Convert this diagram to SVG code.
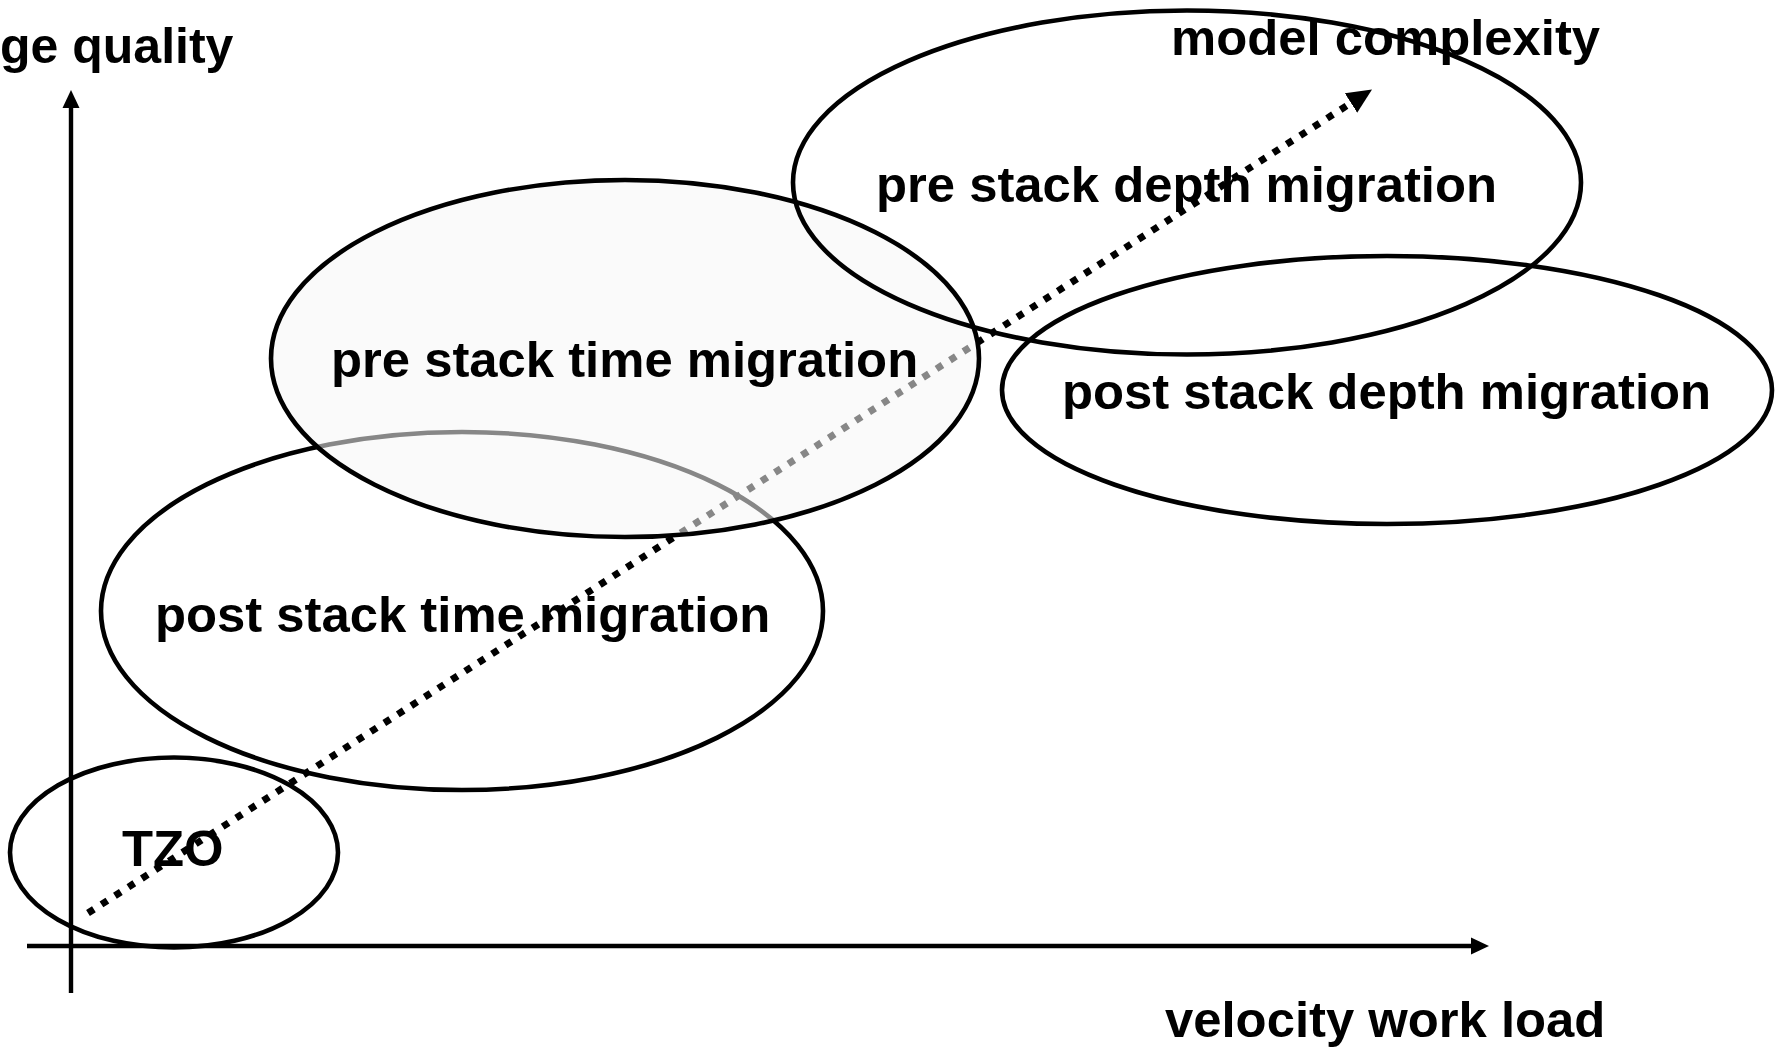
<svg xmlns="http://www.w3.org/2000/svg" width="1781" height="1047" viewBox="0 0 1781 1047">
<style>
  .lbl { font-family: "Liberation Sans", Arial, sans-serif; font-weight: bold; font-size: 50.8px; fill: #000; }
  .ell { fill: none; stroke: #000; stroke-width: 4.6; }
  .axis { stroke: #000; stroke-width: 4.4; fill: none; }
  .dots { stroke: #000; stroke-width: 7; stroke-dasharray: 7 9; fill: none; }
</style>
<defs>
  <marker id="axHead" markerUnits="userSpaceOnUse" markerWidth="20" markerHeight="20" viewBox="0 -10 18 20" refX="0" refY="0" orient="auto">
    <path d="M0,-8.5 L18,0 L0,8.5 z" fill="#000"/>
  </marker>
  <marker id="dotHead" markerUnits="userSpaceOnUse" markerWidth="26" markerHeight="26" viewBox="0 -12 25 24" refX="0" refY="0" orient="auto">
    <path d="M0,-11 L24,0 L0,11 z" fill="#000"/>
  </marker>
</defs>
<rect width="1781" height="1047" fill="#fff"/>

<g id="axes">
  <line class="axis" x1="71" y1="993" x2="71" y2="108" marker-end="url(#axHead)"/>
  <line class="axis" x1="27" y1="946" x2="1471" y2="946" marker-end="url(#axHead)"/>
</g>

<g id="node-tzo">
  <ellipse class="ell" cx="174" cy="852.5" rx="164" ry="95"/>
  <text class="lbl" x="122" y="866">TZO</text>
</g>

<g id="node-post-stack-time">
  <ellipse class="ell" cx="462" cy="611" rx="361" ry="179"/>
  <text class="lbl" x="155" y="632">post stack time migration</text>
</g>

<g id="connectors">
  <line class="dots" x1="88" y1="913" x2="1351" y2="103" marker-end="url(#dotHead)"/>
</g>

<g id="node-pre-stack-time">
  <ellipse cx="625" cy="358.5" rx="354" ry="178.5" fill="#f6f6f6" fill-opacity="0.55" stroke="#000" stroke-width="4.6"/>
  <text class="lbl" x="331" y="377">pre stack time migration</text>
</g>

<g id="node-pre-stack-depth">
  <ellipse class="ell" cx="1187" cy="182.5" rx="394" ry="172"/>
  <text class="lbl" x="876" y="202">pre stack depth migration</text>
</g>

<g id="node-post-stack-depth">
  <ellipse class="ell" cx="1387" cy="390" rx="385" ry="134"/>
  <text class="lbl" x="1062" y="409">post stack depth migration</text>
</g>

<g id="axis-labels">
  <text class="lbl" x="0" y="63" style="font-size:50px">ge quality</text>
  <text class="lbl" x="1171" y="55">model complexity</text>
  <text class="lbl" x="1165" y="1037">velocity work load</text>
</g>
</svg>
